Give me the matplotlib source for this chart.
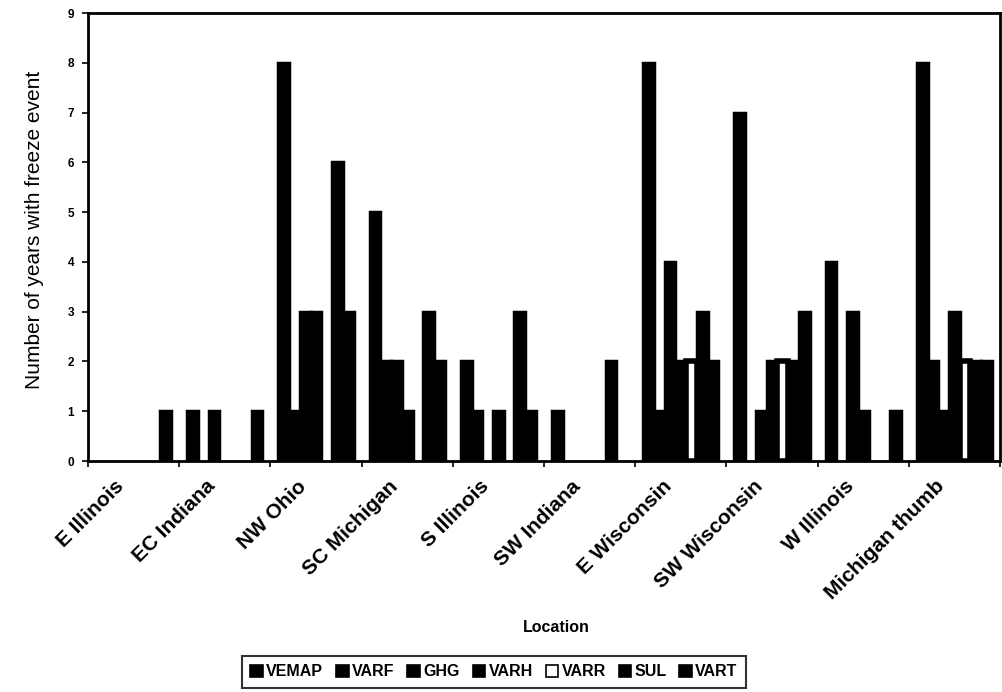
import numpy as np
import matplotlib
matplotlib.use("Agg")
import matplotlib.pyplot as plt
import matplotlib.transforms as mtransforms
from matplotlib.patches import Patch

plt.rcParams["font.family"] = ["Liberation Sans", "DejaVu Sans"]

locations = ["E Illinois", "EC Indiana", "NW Ohio", "SC Michigan", "S Illinois",
             "SW Indiana", "E Wisconsin", "SW Wisconsin", "W Illinois", "Michigan thumb"]
series = ["VEMAP", "VARF", "GHG", "VARH", "VARR", "SUL", "VART"]

vemap = [0, 1, 8, 5, 2, 1, 8, 7, 4, 8]
varf = [0, 0, 1, 2, 1, 0, 1, 0, 0, 2]
ghg = [0, 1, 3, 2, 0, 0, 4, 1, 3, 1]
varh = [0, 0, 3, 1, 1, 0, 2, 2, 1, 3]
varr = [0, 0, 0, 0, 0, 0, 2, 2, 0, 2]
sul = [0, 0, 6, 3, 3, 2, 3, 2, 0, 2]
vart = [1, 1, 3, 2, 1, 0, 2, 3, 1, 2]
values = [vemap, varf, ghg, varh, varr, sul, vart]

fig = plt.figure(figsize=(10.03, 6.92), dpi=100)
ax = fig.add_axes([88 / 1003, 231 / 692, 912 / 1003, 448 / 692])

n = len(series)
w = 1 / (n + 1.5)          # Excel style, gap width 150 %
x = np.arange(len(locations)) + 0.5
for k, (name, vals) in enumerate(zip(series, values)):
    xs = x + (k - (n - 1) / 2) * w
    if name == "VARR":
        lw = [4 if v > 0 else 0 for v in vals]
        ax.bar(xs, vals, w, color="white", edgecolor="black", linewidth=lw, zorder=2)
    else:
        lw = [2.5 if v > 0 else 0 for v in vals]
        ax.bar(xs, vals, w, color="black", edgecolor="black", linewidth=lw, zorder=2)

ax.set_xlim(0, len(locations))
ax.set_ylim(0, 9)
ax.set_yticks(range(10))
ax.set_yticklabels([str(i) for i in range(10)], fontsize=8.5, fontweight="bold")
ax.tick_params(axis="y", direction="out", length=4, width=1.2, pad=6)

ax.set_xticks(x)
ax.set_xticklabels(locations, rotation=45, ha="right", va="center",
                   rotation_mode="anchor", fontsize=15, fontweight="bold")
ax.tick_params(axis="x", which="major", length=0, pad=16)
shift = mtransforms.ScaledTranslation(-9 / 72, 0, fig.dpi_scale_trans)
for lab in ax.get_xticklabels():
    lab.set_transform(lab.get_transform() + shift)
ax.set_xticks(np.arange(len(locations) + 1), minor=True)
ax.tick_params(axis="x", which="minor", direction="out", length=4, width=1.2)

for s in ax.spines.values():
    s.set_linewidth(2)
    s.set_zorder(3)

fig.text(35 / 1003, 1 - 230 / 692, "Number of years with freeze event",
         rotation=90, ha="center", va="center", fontsize=15)
fig.text(556 / 1003, 1 - 628 / 692, "Location", ha="center", va="center",
         fontsize=11.5, fontweight="bold")

handles = [Patch(facecolor="white" if s == "VARR" else "black", edgecolor="black",
                 linewidth=1.2, label=s) for s in series]
leg = fig.legend(handles=handles, loc="center", bbox_to_anchor=(494 / 1003, 1 - 672 / 692),
                 ncol=n, frameon=True, fancybox=False, edgecolor="black",
                 prop={"size": 11.5, "weight": "bold"}, handlelength=0.8,
                 handleheight=0.8, handletextpad=0.2, columnspacing=0.8,
                 borderpad=0.55, borderaxespad=0)
leg.get_frame().set_linewidth(1.5)

fig.savefig("out.png", dpi=100)
